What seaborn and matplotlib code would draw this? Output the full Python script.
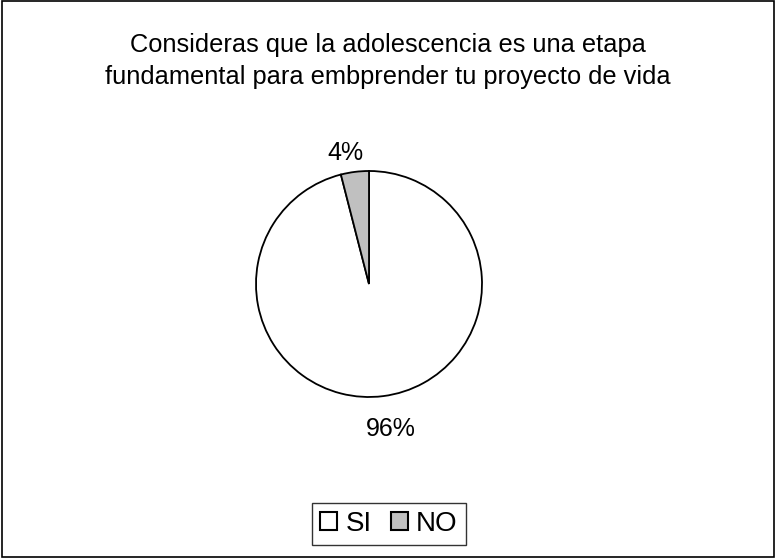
import matplotlib
matplotlib.use("Agg")
import numpy as np
import matplotlib.pyplot as plt
import seaborn as sns
from matplotlib.patches import Rectangle

# Data
categorias = ["SI", "NO"]
valores = [96, 4]
colores = ["#FFFFFF", "#C0C0C0"]
titulo = "Consideras que la adolescencia es una etapa\nfundamental para embprender tu proyecto de vida"

sns.set_theme(style="white")
plt.rcParams['font.family'] = ['Liberation Sans', 'DejaVu Sans']
plt.rcParams['text.color'] = 'black'

fig = plt.figure(figsize=(7.76, 5.58), dpi=100)
fig.patch.set_facecolor("white")

# pie axes: center (369, 284) px, radius 113 px
r = 113
cx, cy = 369, 558 - 284
w = 2.5 * r
ax = fig.add_axes([(cx - w / 2) / 776, (cy - w / 2) / 558, w / 776, w / 558])
wedges, texts, autotexts = ax.pie(
    valores, colors=colores, startangle=90, counterclock=False,
    autopct='%1.0f%%', pctdistance=1.22,
    wedgeprops=dict(edgecolor="black", linewidth=1.3),
    textprops=dict(fontsize=18, color="black"))
ax.set_xlim(-1.25, 1.25)
ax.set_ylim(-1.25, 1.25)

# label distance per slice (Excel-like placement)
dist = [1.29, 1.17]
for wdg, t, d in zip(wedges, autotexts, dist):
    ang = np.deg2rad((wdg.theta1 + wdg.theta2) / 2)
    t.set_position((d * np.cos(ang) + (0.03 if d > 1.2 else -0.06), d * np.sin(ang)))

fig.text(388 / 776, 1 - 61 / 558, titulo, ha="center", va="center",
         fontsize=18.3, linespacing=1.38, color="black")

leg = fig.legend(wedges, categorias, loc="center", bbox_to_anchor=(389 / 776, 1 - 524 / 558),
                 ncol=2, frameon=True, fancybox=False, fontsize=20,
                 handlelength=0.6, handleheight=0.6, handletextpad=0.3,
                 columnspacing=0.7, borderpad=0.3, borderaxespad=0,
                 edgecolor="black")
leg.get_frame().set_linewidth(1.0)
for h in leg.legend_handles:
    h.set_edgecolor("black")
    h.set_linewidth(1.5)

fig.patches.append(Rectangle((0.002, 0.002), 0.996, 0.996, transform=fig.transFigure,
                             fill=False, edgecolor="black", linewidth=1.2))

fig.savefig("out.png", dpi=100)
